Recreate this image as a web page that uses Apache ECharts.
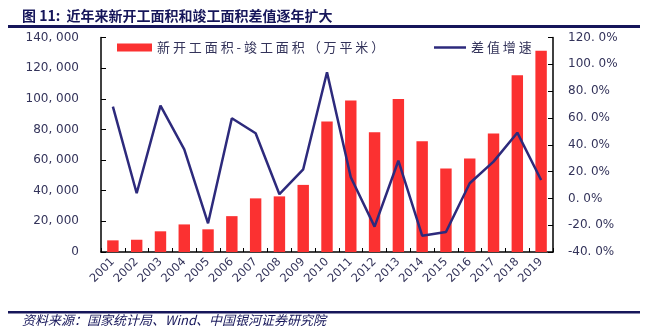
<!DOCTYPE html>
<html>
<head>
<meta charset="utf-8">
<script src="https://cdn.jsdelivr.net/npm/echarts@6/dist/echarts.min.js"></script>
<style>
  html, body { margin: 0; padding: 0; background: #fff; }
  #chart { width: 650px; height: 331px; }
</style>
</head>
<body>
<div id="chart"></div>
<script>
// Years on the category axis
const years = ['2001','2002','2003','2004','2005','2006','2007','2008','2009','2010',
               '2011','2012','2013','2014','2015','2016','2017','2018','2019'];
// New starts minus completions, 10k m²
const gapArea = [7600, 8000, 13500, 18000, 14800, 23400, 35000, 36300, 43800, 85100,
                 98800, 78100, 99800, 72300, 54500, 61000, 77300, 115400, 131300];
// Year-on-year growth of the gap, %
const gapGrowth = [68.4, 3.8, 69.2, 36.6, -18.6, 59.8, 48.6, 3.1, 21.7, 94.1,
                   15.7, -21.1, 28.1, -27.8, -25.1, 11.3, 27.4, 49.0, 13.7];

// Legend names, spaced out a little between characters
const barName = '新 开 工 面 积 - 竣 工 面 积 （ 万 平 米 ）';
const lineName = '差 值 增 速';

const navy = '#16165a';
const labelColor = '#33335a';
const cjk = '"Noto Sans CJK SC", "Noto Sans", sans-serif';
const numFont = '"DejaVu Sans", sans-serif';

const chart = echarts.init(document.getElementById('chart'), null, { renderer: 'canvas' });

chart.setOption({
  animation: false,
  backgroundColor: '#fff',
  title: {
    text: '图 11:  近年来新开工面积和竣工面积差值逐年扩大',
    left: 17, top: 4,
    textStyle: { fontFamily: cjk, fontSize: 14, fontWeight: 'bold', color: navy }
  },
  graphic: [
    { type: 'rect', shape: { x: 8, y: 25, width: 632, height: 3 }, style: { fill: navy } },
    { type: 'rect', shape: { x: 8, y: 311, width: 632, height: 2.5 }, style: { fill: navy } },
    {
      type: 'text', left: 22, top: 314,
      style: {
        text: '资料来源：国家统计局、Wind、中国银河证券研究院',
        font: 'italic 13px ' + cjk, fill: navy
      }
    }
  ],
  legend: [
    {
      data: [{ name: barName, icon: 'rect' }], left: 112, top: 36,
      itemWidth: 35, itemHeight: 8, itemGap: 4,
      textStyle: { fontFamily: cjk, fontSize: 13, color: labelColor }
    },
    {
      data: [{ name: lineName, icon: 'rect' }], left: 429, top: 36,
      itemWidth: 32, itemHeight: 2.5,
      textStyle: { fontFamily: cjk, fontSize: 13, color: labelColor }
    }
  ],
  grid: { left: 101, right: 97, top: 37.5, bottom: 79, containLabel: false },
  xAxis: {
    type: 'category',
    data: years,
    boundaryGap: true,
    axisLine: { lineStyle: { color: '#000', width: 1.5 } },
    axisTick: { show: true, inside: true, length: 4, lineStyle: { color: '#000' } },
    axisLabel: {
      rotate: 45, margin: 8, interval: 0,
      fontFamily: numFont, fontSize: 11.5, color: labelColor
    }
  },
  yAxis: [
    {
      type: 'value', position: 'left',
      min: 0, max: 140000, interval: 20000,
      axisLine: { show: true, lineStyle: { color: '#000', width: 1.5 } },
      axisTick: { show: true, inside: true, length: 5, lineStyle: { color: '#000' } },
      splitLine: { show: false },
      axisLabel: {
        margin: 22, fontFamily: numFont, fontSize: 12, color: labelColor,
        formatter: v => v === 0 ? '0' : String(v).replace(/\B(?=(\d{3})+(?!\d))/g, ', ')
      }
    },
    {
      type: 'value', position: 'right',
      min: -40, max: 120, interval: 20,
      axisLine: { show: true, lineStyle: { color: '#000', width: 1.5 } },
      axisTick: { show: true, inside: true, length: 5, lineStyle: { color: '#000' } },
      splitLine: { show: false },
      axisLabel: {
        margin: 15, fontFamily: numFont, fontSize: 12, color: labelColor,
        formatter: v => v.toFixed(1).replace('.', '. ') + '%'
      }
    }
  ],
  series: [
    {
      name: barName, type: 'bar', yAxisIndex: 0,
      data: gapArea, barWidth: '48%',
      itemStyle: { color: '#fb3131' }
    },
    {
      name: lineName, type: 'line', yAxisIndex: 1,
      data: gapGrowth, symbol: 'none',
      lineStyle: { color: '#2d2a7c', width: 2.5 },
      itemStyle: { color: '#2d2a7c' }
    }
  ]
});
</script>
</body>
</html>
